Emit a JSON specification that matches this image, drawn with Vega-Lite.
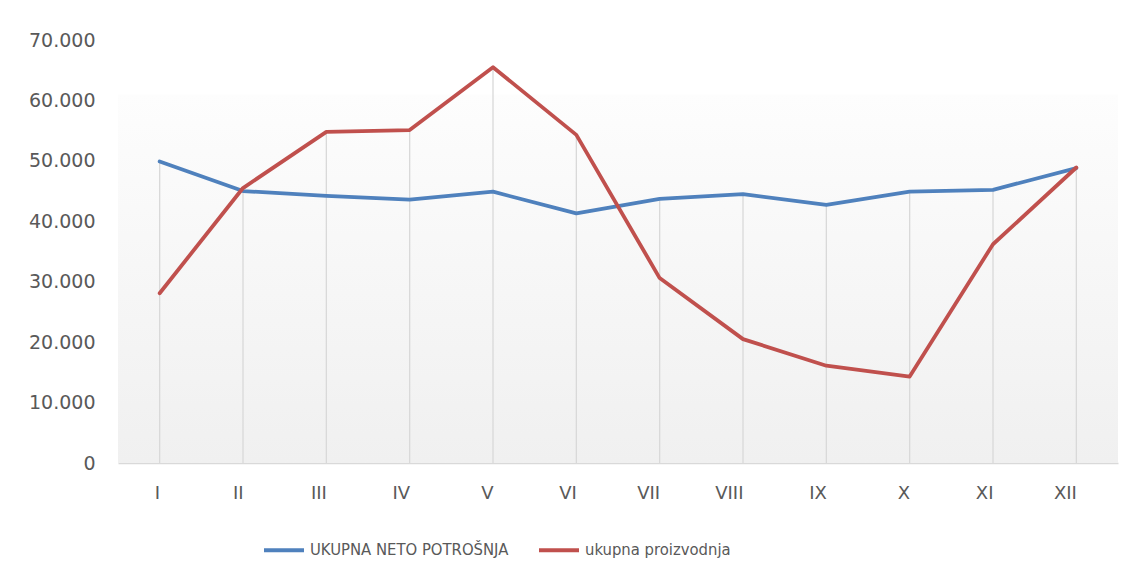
{
  "$schema": "https://vega.github.io/schema/vega-lite/v6.json",
  "width": 1000,
  "height": 423,
  "autosize": {"type": "none"},
  "padding": {"left": 118, "top": 40, "right": 14, "bottom": 115},
  "background": "white",
  "config": {
    "view": {"stroke": null},
    "font": "DejaVu Sans",
    "axis": {"labelColor": "#595959", "labelFontSize": 19, "labelFont": "DejaVu Sans", "ticks": false, "grid": false, "title": null}
  },
  "datasets": {
    "series": [
      {"month": "I", "series": "UKUPNA NETO POTROŠNJA", "value": 49900},
      {"month": "II", "series": "UKUPNA NETO POTROŠNJA", "value": 45000},
      {"month": "III", "series": "UKUPNA NETO POTROŠNJA", "value": 44200},
      {"month": "IV", "series": "UKUPNA NETO POTROŠNJA", "value": 43600},
      {"month": "V", "series": "UKUPNA NETO POTROŠNJA", "value": 44900},
      {"month": "VI", "series": "UKUPNA NETO POTROŠNJA", "value": 41300},
      {"month": "VII", "series": "UKUPNA NETO POTROŠNJA", "value": 43700},
      {"month": "VIII", "series": "UKUPNA NETO POTROŠNJA", "value": 44500},
      {"month": "IX", "series": "UKUPNA NETO POTROŠNJA", "value": 42700},
      {"month": "X", "series": "UKUPNA NETO POTROŠNJA", "value": 44900},
      {"month": "XI", "series": "UKUPNA NETO POTROŠNJA", "value": 45200},
      {"month": "XII", "series": "UKUPNA NETO POTROŠNJA", "value": 48800},
      {"month": "I", "series": "ukupna proizvodnja", "value": 28100},
      {"month": "II", "series": "ukupna proizvodnja", "value": 45500},
      {"month": "III", "series": "ukupna proizvodnja", "value": 54800},
      {"month": "IV", "series": "ukupna proizvodnja", "value": 55100},
      {"month": "V", "series": "ukupna proizvodnja", "value": 65500},
      {"month": "VI", "series": "ukupna proizvodnja", "value": 54300},
      {"month": "VII", "series": "ukupna proizvodnja", "value": 30600},
      {"month": "VIII", "series": "ukupna proizvodnja", "value": 20500},
      {"month": "IX", "series": "ukupna proizvodnja", "value": 16100},
      {"month": "X", "series": "ukupna proizvodnja", "value": 14300},
      {"month": "XI", "series": "ukupna proizvodnja", "value": 36200},
      {"month": "XII", "series": "ukupna proizvodnja", "value": 48900}
    ]
  },
  "layer": [
    {
      "data": {"values": [{"top": 61000, "bottom": 0}]},
      "mark": {"type": "rect", "fill": {"gradient": "linear", "x1": 0, "y1": 0, "x2": 0, "y2": 1, "stops": [{"offset": 0, "color": "#fdfdfd"}, {"offset": 1, "color": "#f0f0f0"}]}},
      "encoding": {
        "y": {"field": "top", "type": "quantitative", "scale": {"domain": [0, 70000]}},
        "y2": {"field": "bottom"}
      }
    },
    {
      "data": {"name": "series"},
      "mark": {"type": "rule", "color": "#d9d9d9", "strokeWidth": 1.3},
      "encoding": {
        "x": {"field": "month", "type": "nominal", "sort": null, "scale": {"type": "point", "padding": 0.5}},
        "y": {"aggregate": "max", "field": "value", "type": "quantitative"},
        "y2": {"datum": 0}
      }
    },
    {
      "data": {"name": "series"},
      "mark": {"type": "line", "strokeWidth": 3.8, "strokeCap": "round", "strokeJoin": "round"},
      "encoding": {
        "x": {
          "field": "month", "type": "nominal", "sort": null,
          "scale": {"type": "point", "padding": 0.5},
          "axis": {"labelAngle": 0, "domainColor": "#d9d9d9", "domainWidth": 1.5, "labelPadding": 30, "labelFontSize": 18}
        },
        "y": {
          "field": "value", "type": "quantitative",
          "scale": {"domain": [0, 70000]},
          "axis": {"values": [0, 10000, 20000, 30000, 40000, 50000, 60000, 70000], "format": ",.0f", "labelExpr": "replace(datum.label, ',', '.')", "domain": false, "labelPadding": 23}
        },
        "color": {
          "field": "series", "type": "nominal", "sort": null,
          "scale": {"range": ["#4f81bd", "#c0504d"]},
          "legend": {
            "title": null, "orient": "none", "direction": "horizontal",
            "legendX": 144, "legendY": 488,
            "symbolType": "stroke", "symbolSize": 1600, "symbolStrokeWidth": 4,
            "labelFontSize": 16.5, "labelColor": "#595959", "labelFont": "DejaVu Sans Condensed",
            "columnPadding": 22, "labelOffset": 4, "labelLimit": 400
          }
        }
      }
    }
  ]
}
